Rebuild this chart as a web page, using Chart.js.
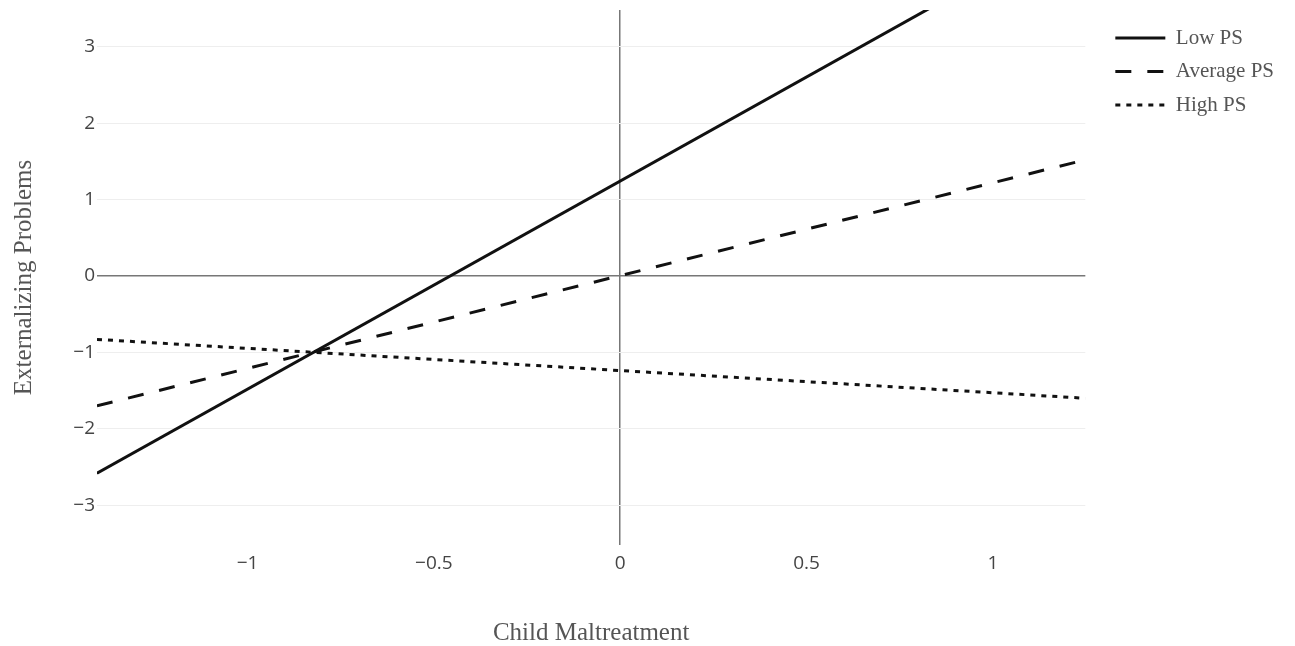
<!DOCTYPE html>
<html>
<head>
<meta charset="utf-8">
<title>Externalizing Problems by Child Maltreatment</title>
<script src="https://cdn.jsdelivr.net/npm/chart.js@4.4.1/dist/chart.umd.min.js"></script>
<style>
  html, body { margin: 0; padding: 0; background: #fff; }
  #wrap { width: 1295px; height: 646px; position: relative; }
</style>
</head>
<body>
<div id="wrap"><canvas id="chart"></canvas></div>
<script>
// Values (straight lines, endpoints only).
const X_POINTS = [-1.404, 1.248];
const LOW_PS = [-2.58, 4.64];
const AVERAGE_PS = [-1.70, 1.52];
const HIGH_PS = [-0.83, -1.60];
const SERIES_NAMES = ["Low PS", "Average PS", "High PS"];

const X_TICKS = [-1, -0.5, 0, 0.5, 1];
const Y_TICKS = [-3, -2, -1, 0, 1, 2, 3];
const X_MIN = -1.404, X_MAX = 1.248;
const Y_MIN = -3.52, Y_MAX = 3.48;

const TICK_FONT = { family: "'Open Sans', sans-serif", size: 19 };
const TITLE_FONT = { family: "'Liberation Serif', serif", size: 25, lineHeight: 1 };

function pts(ys) {
  return X_POINTS.map((x, i) => ({ x, y: ys[i] }));
}

function minusLabel(v) {
  if (v < 0) return "\u2212" + Math.abs(v);
  return String(v);
}

function lineSet(label, ys, dash) {
  return {
    label,
    data: pts(ys),
    showLine: true,
    borderColor: "#111",
    backgroundColor: "#111",
    borderWidth: 3,
    borderDash: dash,
    pointRadius: 0,
    pointHoverRadius: 0,
  };
}

new Chart(document.getElementById("chart"), {
  type: "scatter",
  data: {
    datasets: [
      lineSet(SERIES_NAMES[0], LOW_PS, []),
      lineSet(SERIES_NAMES[1], AVERAGE_PS, [16, 16]),
      lineSet(SERIES_NAMES[2], HIGH_PS, [5, 6]),
    ],
  },
  options: {
    responsive: true,
    maintainAspectRatio: false,
    animation: false,
    layout: { padding: { top: 10, right: 11, left: 0, bottom: 0 } },
    plugins: {
      tooltip: { enabled: false },
      legend: {
        position: "right",
        align: "start",
        // tiny blank title only pushes the items down a little
        title: { display: true, text: " ", font: { size: 1, lineHeight: 1 }, padding: { top: 4, bottom: 0 } },
        labels: {
          usePointStyle: true,
          pointStyle: "line",
          pointStyleWidth: 50,
          padding: 12.5,
          color: "#555",
          font: { family: "'Liberation Serif', serif", size: 21 },
          generateLabels: chart => chart.data.datasets.map((ds, i) => ({
            text: ds.label,
            datasetIndex: i,
            hidden: false,
            fillStyle: ds.borderColor,
            strokeStyle: ds.borderColor,
            lineWidth: ds.borderWidth,
            lineDash: ds.borderDash,
            lineCap: "butt",
            pointStyle: "line",
            fontColor: "#555",
          })),
        },
      },
    },
    scales: {
      x: {
        type: "linear",
        min: X_MIN,
        max: X_MAX,
        afterBuildTicks: s => { s.ticks = X_TICKS.map(v => ({ value: v })); },
        afterFit: s => { s.height = 101; s.paddingLeft = 0; s.paddingRight = 0; },
        border: { display: false },
        grid: {
          drawTicks: false,
          color: c => (c.tick && c.tick.value === 0 ? "#777" : "rgba(0,0,0,0)"),
          lineWidth: 1.5,
        },
        ticks: {
          padding: 7,
          color: "#444",
          font: TICK_FONT,
          maxRotation: 0,
          autoSkip: false,
          callback: v => minusLabel(v),
        },
        title: {
          display: true,
          text: "Child Maltreatment",
          color: "#555",
          font: TITLE_FONT,
          padding: { top: 0, bottom: 0 },
        },
      },
      y: {
        type: "linear",
        min: Y_MIN,
        max: Y_MAX,
        afterBuildTicks: s => { s.ticks = Y_TICKS.map(v => ({ value: v })); },
        afterFit: s => { s.width = 97; s.paddingTop = 0; s.paddingBottom = 0; },
        border: { display: false },
        grid: {
          drawTicks: false,
          color: c => (c.tick && c.tick.value === 0 ? "#777" : "#eeeeee"),
          lineWidth: c => (c.tick && c.tick.value === 0 ? 1.5 : 1),
        },
        ticks: {
          padding: 2,
          color: "#444",
          font: TICK_FONT,
          autoSkip: false,
          callback: v => minusLabel(v),
        },
        title: {
          display: true,
          text: "Externalizing Problems",
          color: "#555",
          font: TITLE_FONT,
          padding: { top: 12, bottom: 0 },
        },
      },
      // empty spacer between the plot and the legend
      gap: {
        type: "linear",
        position: "right",
        min: 0,
        max: 1,
        grid: { display: false },
        border: { display: false },
        ticks: { display: false },
        afterFit: s => { s.width = 17.5; s.paddingTop = 0; s.paddingBottom = 0; },
      },
    },
  },
});
</script>
</body>
</html>
